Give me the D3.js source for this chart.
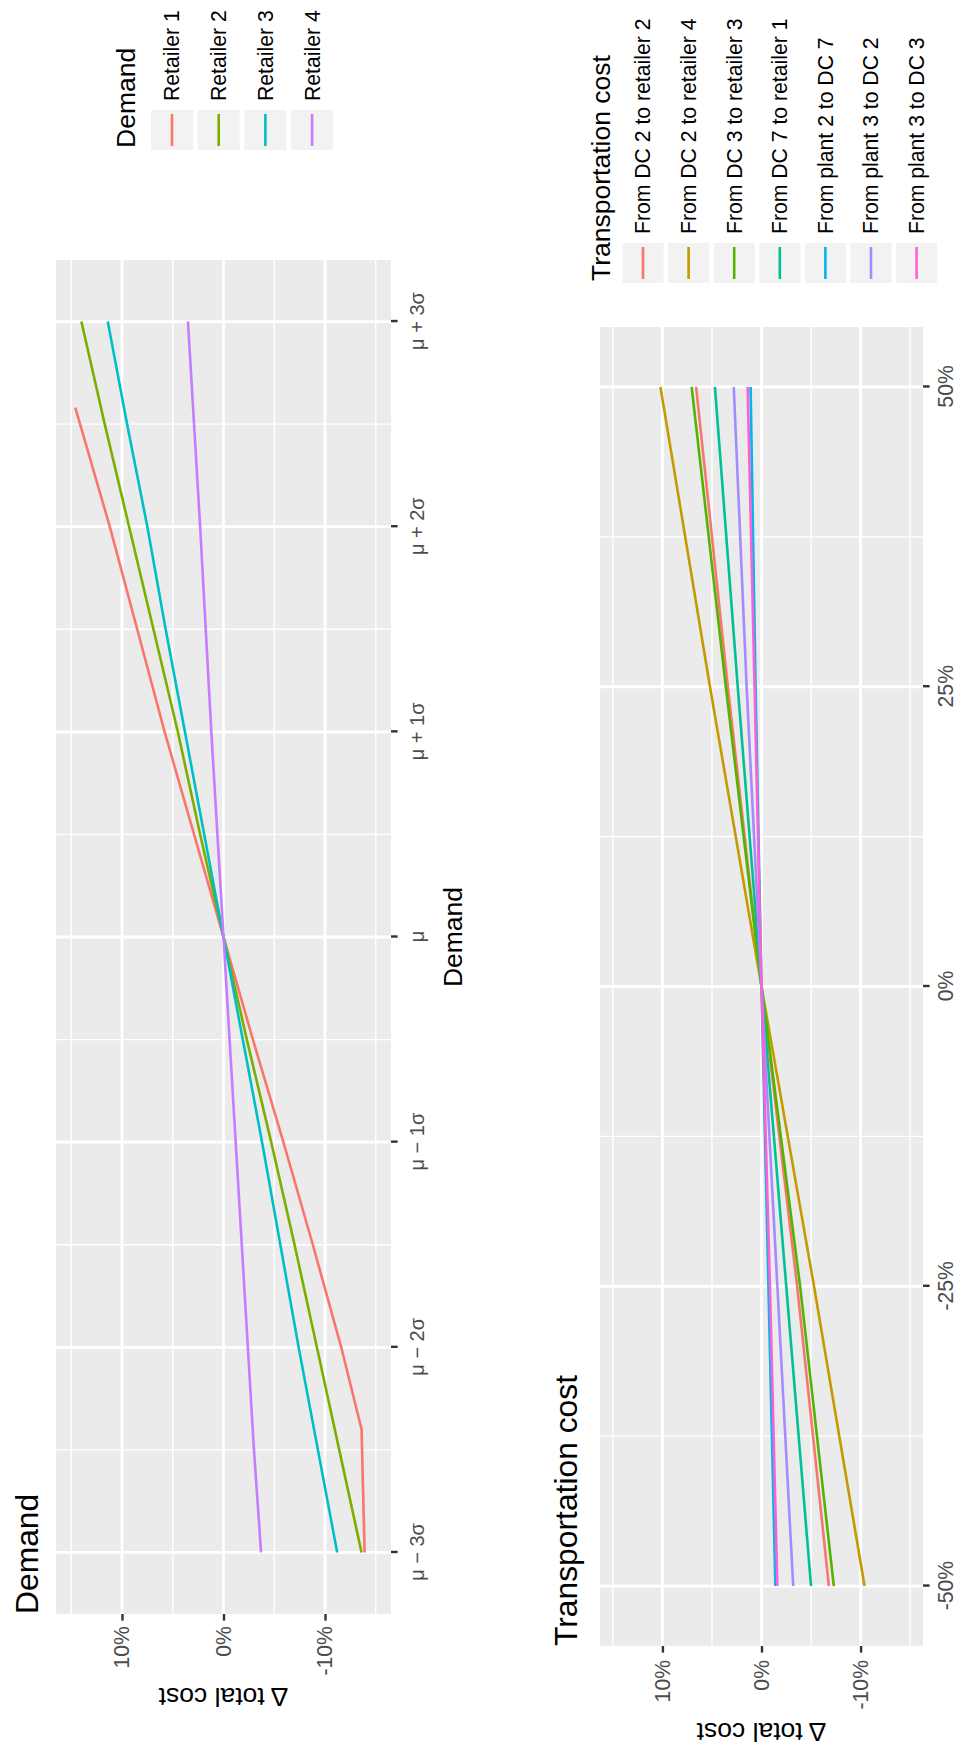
<!DOCTYPE html>
<html><head><meta charset="utf-8">
<script src="https://cdn.jsdelivr.net/npm/d3@7"></script>
<style>body{margin:0;background:#fff}svg{display:block}</style>
</head><body>
<svg id="chart" width="963" height="1749"></svg>
<script>
// ---------- data ----------
const demandRetailers = ["Retailer 1", "Retailer 2", "Retailer 3", "Retailer 4"];
const demandColors = ["#F8766D", "#7CAE00", "#00BFC4", "#C77CFF"];
const demandTickValues = [-3, -2, -1, 0, 1, 2, 3];
const demandTickLabels = ["μ − 3σ", "μ − 2σ", "μ − 1σ", "μ", "μ + 1σ", "μ + 2σ", "μ + 3σ"];
const demandSigma = [-3, -2.5, -2, -1.5, -1, -0.5, 0, 0.5, 1, 1.5, 2, 2.5, 3];
const retailer1Sigma = [-3, -2.4, -2, -1.5, -1, -0.5, 0, 0.5, 1, 1.5, 2, 2.58];
const retailer1 = [-13.9, -13.6, -11.6, -8.8, -5.9, -2.9, 0, 2.9, 5.8, 8.5, 11.2, 14.6];
const retailer2 = [-13.6, -11.4, -9.2, -7.0, -4.7, -2.3, 0, 2.3, 4.5, 6.9, 9.3, 11.7, 14.0];
const retailer3 = [-11.2, -9.3, -7.4, -5.6, -3.8, -1.9, 0, 1.9, 3.8, 5.7, 7.5, 9.5, 11.4];
const retailer4 = [-3.7, -3.0, -2.4, -1.8, -1.2, -0.6, 0, 0.6, 1.2, 1.75, 2.3, 2.9, 3.5];

const transportRoutes = ["From DC 2 to retailer 2", "From DC 2 to retailer 4", "From DC 3 to retailer 3",
  "From DC 7 to retailer 1", "From plant 2 to DC 7", "From plant 3 to DC 2", "From plant 3 to DC 3"];
const transportColors = ["#F8766D", "#C49A00", "#53B400", "#00C094", "#00B6EB", "#A58AFF", "#FB61D7"];
const costChange = [-50, -25, 0, 25, 50];
const costTickLabels = ["-50%", "-25%", "0%", "25%", "50%"];
const dc2ToRetailer2 = [-6.8, -3.6, 0, 3.4, 6.6];
const dc2ToRetailer4 = [-10.4, -5.3, 0, 5.2, 10.2];
const dc3ToRetailer3 = [-7.3, -3.9, 0, 3.6, 7.05];
const dc7ToRetailer1 = [-5.0, -2.5, 0, 2.4, 4.7];
const plant2ToDc7 = [-1.4, -0.7, 0, 0.6, 1.1];
const plant3ToDc2 = [-3.2, -1.6, 0, 1.5, 2.8];
const plant3ToDc3 = [-1.6, -0.85, 0, 0.7, 1.4];

const costTickValues = [-10, 0, 10];
const costTickText = ["-10%", "0%", "10%"];

// ---------- drawing ----------
const FONT = "'Liberation Sans', Arial, Helvetica, sans-serif";
const svg = d3.select("#chart");
svg.append("rect").attr("width", 963).attr("height", 1749).attr("fill", "#fff");
// the whole figure is rotated 90° counter-clockwise
const root = svg.append("g").attr("transform", "translate(0,1749) rotate(-90)");

function drawPanel(o) {
  const g = root.append("g");
  const x = d3.scaleLinear().domain(o.xDomain).range(o.xRange);
  const y = d3.scaleLinear().domain(o.yDomain).range(o.yRange);
  const [x0, x1] = o.xRange, [y1, y0] = o.yRange;
  g.append("rect").attr("x", x0).attr("y", y0).attr("width", x1 - x0).attr("height", y1 - y0).attr("fill", "#EBEBEB");
  // minor grid
  o.xMinor.forEach(v => g.append("line").attr("x1", x(v)).attr("x2", x(v)).attr("y1", y0).attr("y2", y1)
    .attr("stroke", "#fff").attr("stroke-width", 1.4));
  o.yMinor.forEach(v => g.append("line").attr("y1", y(v)).attr("y2", y(v)).attr("x1", x0).attr("x2", x1)
    .attr("stroke", "#fff").attr("stroke-width", 1.4));
  // major grid
  o.xTicks.forEach(v => g.append("line").attr("x1", x(v)).attr("x2", x(v)).attr("y1", y0).attr("y2", y1)
    .attr("stroke", "#fff").attr("stroke-width", 2.8));
  o.yTicks.forEach(v => g.append("line").attr("y1", y(v)).attr("y2", y(v)).attr("x1", x0).attr("x2", x1)
    .attr("stroke", "#fff").attr("stroke-width", 2.8));
  // series
  const line = d3.line().x(d => x(d[0])).y(d => y(d[1]));
  o.series.forEach(s => {
    g.append("path").datum(s.xs.map((v, i) => [v, s.ys[i]]))
      .attr("d", line).attr("fill", "none").attr("stroke", s.color)
      .attr("stroke-width", 2.6).attr("stroke-linejoin", "round");
  });
  // x axis
  const ax = g.append("g").attr("transform", `translate(0,${y0 + (y1 - y0)})`)
    .call(d3.axisBottom(x).tickValues(o.xTicks).tickFormat((d, i) => o.xLabels[i])
      .tickSize(6.6).tickPadding(o.xPad));
  ax.select(".domain").remove();
  ax.selectAll(".tick line").attr("stroke", "#333").attr("stroke-width", 2.4);
  ax.selectAll(".tick text").attr("fill", "#4D4D4D").style("font-family", FONT)
    .style("font-size", o.xFont + "px");
  // y axis
  const ay = g.append("g").attr("transform", `translate(${x0},0)`)
    .call(d3.axisLeft(y).tickValues(o.yTicks).tickFormat((d, i) => o.yLabels[i])
      .tickSize(6.6).tickPadding(o.yPad));
  ay.select(".domain").remove();
  ay.selectAll(".tick line").attr("stroke", "#333").attr("stroke-width", 2.4);
  ay.selectAll(".tick text").attr("fill", "#4D4D4D").style("font-family", FONT).style("font-size", "21.2px");
  // y title
  g.append("text").attr("transform", `translate(${o.yTitleX},${(y0 + y1) / 2}) rotate(-90)`)
    .attr("text-anchor", "middle").style("font-family", FONT).style("font-size", "26.5px")
    .attr("fill", "#000").text("Δ total cost");
  // x title
  if (o.xTitle) g.append("text").attr("x", (x0 + x1) / 2).attr("y", o.xTitleY).attr("text-anchor", "middle")
    .style("font-family", FONT).style("font-size", "26.5px").text(o.xTitle);
  // plot title
  g.append("text").attr("x", x0).attr("y", o.titleY).style("font-family", FONT)
    .style("font-size", "31.8px").text(o.title);
  // legend
  const L = o.legend;
  g.append("text").attr("x", L.x + 2).attr("y", L.titleY).style("font-family", FONT)
    .style("font-size", "26.5px").text(L.title);
  L.names.forEach((n, i) => {
    const cy = L.firstY + i * L.step;
    g.append("rect").attr("x", L.x).attr("y", cy - L.keyH / 2).attr("width", 40).attr("height", L.keyH)
      .attr("fill", "#F2F2F2");
    g.append("line").attr("x1", L.x + 4).attr("x2", L.x + 36).attr("y1", cy).attr("y2", cy)
      .attr("stroke", L.colors[i]).attr("stroke-width", 2.6);
    g.append("text").attr("x", L.x + 49).attr("y", cy).attr("dy", "0.35em")
      .style("font-family", FONT).style("font-size", "21.2px").text(n);
  });
}

drawPanel({
  xDomain: [-3.3, 3.3], xRange: [135, 1489],
  yDomain: [-16.5, 16.5], yRange: [391, 56],
  xTicks: demandTickValues, xLabels: demandTickLabels, xMinor: [-2.5, -1.5, -0.5, 0.5, 1.5, 2.5],
  yTicks: costTickValues, yLabels: costTickText, yMinor: [-15, -5, 5, 15],
  xPad: 12, xFont: 20, yPad: 5.5, yTitleX: 61,
  xTitle: "Demand", xTitleY: 462,
  title: "Demand", titleY: 38,
  series: [
    { xs: retailer1Sigma, ys: retailer1, color: demandColors[0] },
    { xs: demandSigma, ys: retailer2, color: demandColors[1] },
    { xs: demandSigma, ys: retailer3, color: demandColors[2] },
    { xs: demandSigma, ys: retailer4, color: demandColors[3] }
  ],
  legend: { x: 1599, title: "Demand", titleY: 135, firstY: 172, step: 46.7, keyH: 42,
    names: demandRetailers, colors: demandColors }
});

const transportValues = [dc2ToRetailer2, dc2ToRetailer4, dc3ToRetailer3, dc7ToRetailer1, plant2ToDc7, plant3ToDc2, plant3ToDc3];
drawPanel({
  xDomain: [-55, 55], xRange: [103, 1422],
  yDomain: [-16.3, 16.3], yRange: [923, 600],
  xTicks: costChange, xLabels: costTickLabels, xMinor: [-37.5, -12.5, 12.5, 37.5],
  yTicks: costTickValues, yLabels: costTickText, yMinor: [-15, -5, 5, 15],
  xPad: 8, xFont: 21.2, yPad: 7.4, yTitleX: 26,
  xTitle: null,
  title: "Transportation cost", titleY: 577,
  series: transportValues.map((v, i) => ({ xs: costChange, ys: v, color: transportColors[i] })),
  legend: { x: 1466, title: "Transportation cost", titleY: 610, firstY: 643, step: 45.6, keyH: 41,
    names: transportRoutes, colors: transportColors }
});
</script>
</body></html>
